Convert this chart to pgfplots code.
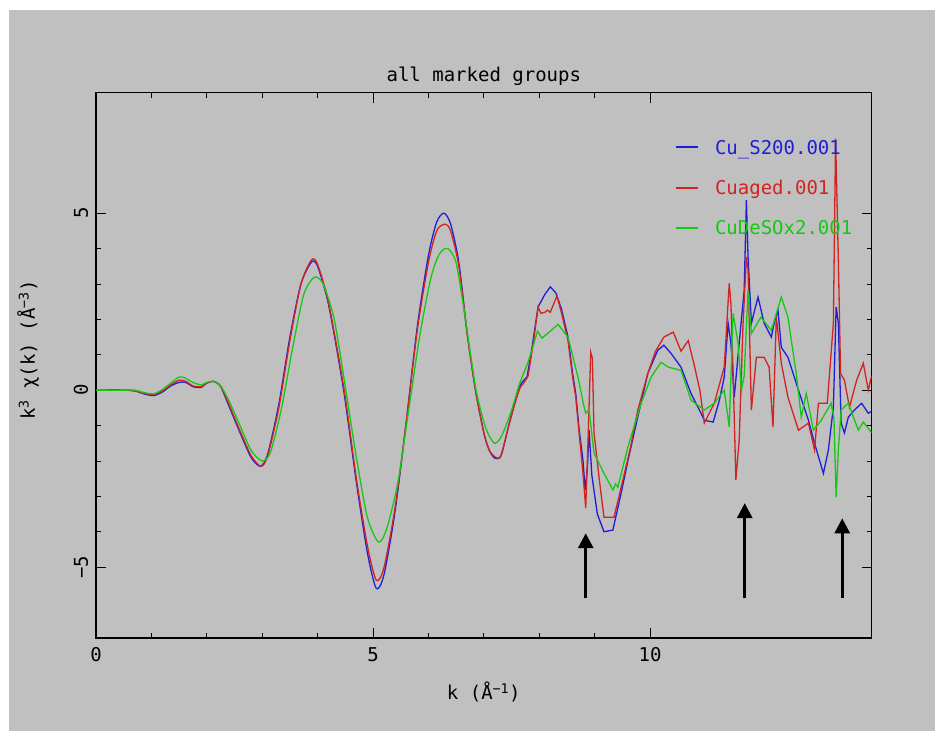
\documentclass[border=0pt]{standalone}
\usepackage{fontspec}
\setmainfont{DejaVu Sans Mono}
\usepackage{pgfplots}
\pgfplotsset{compat=1.18}
\usetikzlibrary{arrows.meta}
\definecolor{bggray}{RGB}{192,192,192}
\definecolor{cblue}{RGB}{30,30,215}
\definecolor{cred}{RGB}{210,35,35}
\definecolor{cgreen}{RGB}{20,200,20}
\begin{document}
\fontsize{19}{22}\selectfont
\begin{tikzpicture}
\useasboundingbox (0pt,0pt) rectangle (943pt,739pt);
\fill[white] (0pt,0pt) rectangle (943pt,739pt);
\fill[bggray] (9pt,8pt) rectangle (935pt,729pt);
\begin{axis}[
  at={(96pt,101pt)}, anchor=south west,
  scale only axis, width=775.6pt, height=545.2pt,
  xmin=0, xmax=14, ymin=-7, ymax=8.4,
  axis line style={line width=1.2pt, black},
  xtick={0,5,10}, xticklabels={0,5,10},
  ytick={-5,0,5}, yticklabels={{−5},{0},{5}},
  minor x tick num=4, minor y tick num=4,
  tick align=inside,
  major tick length=10pt, minor tick length=5pt,
  tick style={line width=0.9pt, black},
  xticklabel style={anchor=base, inner sep=0pt, yshift=-24pt},
  yticklabel style={rotate=90, anchor=base, inner sep=0pt},
  yticklabel shift=8pt,
  title={all marked groups},
  title style={at={(0.5,1)}, anchor=base, inner sep=0pt, yshift=5pt},
  xlabel={k (Å\textsuperscript{−1})},
  xlabel style={at={(axis description cs:0.5,0)}, anchor=base, inner sep=0pt, yshift=-62pt},
  ylabel={k\textsuperscript{3} χ(k) (Å\textsuperscript{−3})},
  ylabel style={at={(axis description cs:-0.0787,0.528)}, anchor=base, inner sep=0pt},
  clip=true,
  every axis plot/.append style={line width=1.3pt},
]
% ---- Cu_S200.001 (blue)
\addplot[cblue, smooth, tension=0.45] coordinates {
(0,0) (0.5,0) (0.7,-0.02) (0.9,-0.12) (1.05,-0.15) (1.2,-0.05) (1.35,0.12) (1.5,0.22) (1.62,0.22)
(1.75,0.1) (1.9,0.08) (2.0,0.2) (2.12,0.25) (2.25,0.1) (2.4,-0.45) (2.6,-1.2) (2.8,-1.9) (2.97,-2.15)
(3.1,-1.8) (3.3,-0.4) (3.5,1.5) (3.7,3.0) (3.89,3.62) (4.0,3.5) (4.2,2.4) (4.47,0) (4.7,-2.6) (4.9,-4.6)
(5.06,-5.6) (5.2,-5.2) (5.4,-3.4) (5.6,-0.9) (5.8,1.8) (6.0,3.8) (6.15,4.75) (6.28,5.0) (6.4,4.7)
(6.55,3.6) (6.7,1.6) (6.85,0) (7.0,-1.2) (7.1,-1.7) (7.2,-1.92) (7.31,-1.85) (7.45,-1.0) (7.54,-0.48)
(7.65,0.1) (7.72,0.28) (7.78,0.37)
};
\addplot[cblue] coordinates {
(7.78,0.37) (7.86,1.1) (7.98,2.35) (8.1,2.7) (8.2,2.92) (8.3,2.75) (8.4,2.3)
(8.52,1.5) (8.6,0.5) (8.66,-0.1) (8.72,-1.1) (8.79,-1.98) (8.83,-2.82) (8.87,-2.2) (8.9,-1.13)
(8.95,-2.4) (9.05,-3.5) (9.17,-4.0) (9.33,-3.95) (9.48,-2.9) (9.6,-2.0) (9.78,-0.75) (9.96,0.47)
(10.14,1.13) (10.25,1.27) (10.38,1.04) (10.56,0.65) (10.74,-0.09) (10.92,-0.65) (10.98,-0.85)
(11.14,-0.9) (11.25,-0.3) (11.34,0.37) (11.41,1.89) (11.46,1.33) (11.52,-0.2) (11.61,1.33)
(11.7,2.82) (11.74,5.37) (11.77,3.76) (11.83,1.89) (11.95,2.63) (12.06,1.89) (12.19,1.5)
(12.24,1.89) (12.31,2.26) (12.37,1.21) (12.49,0.93) (12.68,0) (12.86,-0.85) (12.97,-1.5)
(13.13,-2.35) (13.22,-1.69) (13.31,-0.48) (13.36,2.35) (13.4,1.89) (13.45,-0.93) (13.51,-1.21)
(13.58,-0.76) (13.69,-0.56) (13.82,-0.37) (13.94,-0.65) (14,-0.6)
};
% ---- Cuaged.001 (red)
\addplot[cred, smooth, tension=0.45] coordinates {
(0,0) (0.5,0) (0.7,-0.02) (0.9,-0.1) (1.05,-0.12) (1.2,-0.02) (1.35,0.15) (1.5,0.28) (1.62,0.25)
(1.75,0.12) (1.9,0.1) (2.0,0.2) (2.12,0.25) (2.25,0.12) (2.4,-0.4) (2.6,-1.15) (2.8,-1.85) (2.98,-2.15)
(3.1,-1.85) (3.3,-0.5) (3.5,1.4) (3.7,3.0) (3.89,3.68) (4.0,3.55) (4.2,2.45) (4.48,0) (4.7,-2.5)
(4.9,-4.4) (5.06,-5.37) (5.2,-5.0) (5.4,-3.3) (5.6,-0.9) (5.8,1.7) (6.0,3.6) (6.15,4.5) (6.3,4.69)
(6.4,4.5) (6.55,3.5) (6.7,1.6) (6.85,0) (7.0,-1.2) (7.1,-1.7) (7.22,-1.9) (7.31,-1.85) (7.45,-1.0)
(7.54,-0.48) (7.65,0.05) (7.72,0.2) (7.8,0.4)
};
\addplot[cred] coordinates {
(7.8,0.4) (7.9,1.4) (7.98,2.35) (8.03,2.17) (8.1,2.2) (8.15,2.26)
(8.2,2.2) (8.32,2.66) (8.4,2.2) (8.52,1.4) (8.6,0.4) (8.66,-0.2) (8.72,-1.2) (8.79,-2.35) (8.84,-3.33)
(8.88,-1.5) (8.93,1.07) (8.96,0.9) (8.99,-1.21) (9.08,-2.46) (9.17,-3.59) (9.35,-3.59) (9.51,-2.54)
(9.65,-1.6) (9.78,-0.56) (9.96,0.47) (10.1,1.1) (10.25,1.5) (10.42,1.64) (10.56,1.1) (10.69,1.4)
(10.8,0.7) (10.9,0.0) (10.98,-0.93) (11.16,-0.37) (11.34,0.65) (11.43,3.02) (11.46,2.46) (11.5,0.5)
(11.55,-2.54) (11.61,-1.41) (11.68,1.89) (11.74,3.76) (11.77,3.39) (11.83,-0.56) (11.92,0.93)
(12.06,0.93) (12.15,0.65) (12.22,-1.04) (12.28,2.06) (12.37,0.76) (12.49,-0.2) (12.68,-1.13)
(12.86,-0.93) (12.97,-1.69) (13.04,-0.37) (13.2,-0.37) (13.31,1.89) (13.35,7.1) (13.4,3.67)
(13.44,0.47) (13.51,0.28) (13.6,-0.48) (13.73,0.28) (13.85,0.76) (13.94,0) (14,0.4)
};
% ---- CuDeSOx2.001 (green)
\addplot[cgreen, smooth, tension=0.45] coordinates {
(0,0) (0.5,0) (0.7,0) (0.9,-0.08) (1.05,-0.1) (1.2,0.02) (1.35,0.2) (1.5,0.37) (1.6,0.35) (1.75,0.22)
(1.9,0.15) (2.0,0.22) (2.12,0.25) (2.25,0.12) (2.4,-0.3) (2.6,-1.0) (2.8,-1.7) (3.0,-2.0) (3.15,-1.75)
(3.35,-0.5) (3.55,1.2) (3.75,2.7) (3.94,3.19) (4.1,3.0) (4.3,2.0) (4.5,0.1) (4.7,-1.9) (4.9,-3.6)
(5.1,-4.29) (5.25,-3.9) (5.45,-2.6) (5.65,-0.5) (5.85,1.6) (6.05,3.2) (6.2,3.85) (6.35,4.0) (6.5,3.6)
(6.65,2.2) (6.85,0.1) (7.0,-0.9) (7.1,-1.3) (7.2,-1.5) (7.31,-1.33) (7.45,-0.8) (7.54,-0.37)
(7.65,0.2) (7.8,0.8) (7.9,1.3)
};
\addplot[cgreen] coordinates {
(7.9,1.3) (7.97,1.67) (8.05,1.47) (8.15,1.6) (8.34,1.86) (8.52,1.5) (8.6,1.0)
(8.7,0.37) (8.8,-0.4) (8.84,-0.65) (8.9,-0.55) (8.99,-1.78) (9.17,-2.35) (9.33,-2.82) (9.38,-2.65)
(9.42,-2.74) (9.6,-1.61) (9.84,-0.37) (10.02,0.37) (10.2,0.79) (10.33,0.65) (10.56,0.56)
(10.74,-0.28) (10.98,-0.56) (11.16,-0.37) (11.34,0) (11.43,-1.04) (11.5,2.17) (11.59,1.33)
(11.65,0) (11.7,0.4) (11.77,2.82) (11.83,1.6) (12.0,2.06) (12.19,1.69) (12.37,2.63) (12.49,2.06)
(12.64,0.47) (12.73,-0.76) (12.82,-0.09) (12.95,-1.13) (13.09,-0.85) (13.27,-0.37) (13.32,-0.8)
(13.36,-3.02) (13.4,-1.69) (13.45,-0.56) (13.58,-0.37) (13.76,-1.13) (13.85,-0.9) (14,-1.2)
};
% ---- legend
\path[draw=bggray, line width=0.1pt] (axis cs:1,7.5) -- (axis cs:1.001,7.5);
\draw[cred, line width=1.6pt] (axis cs:10.47,5.71) -- (axis cs:10.87,5.71);
\node[cred, anchor=base west, inner sep=0pt] at (axis cs:11.17,5.52) {Cuaged.001};
\draw[cgreen, line width=1.6pt] (axis cs:10.47,4.58) -- (axis cs:10.87,4.58);
\node[cgreen, anchor=base west, inner sep=0pt] at (axis cs:11.17,4.39) {CuDeSOx2.001};
\fill[cblue] (axis cs:10.47,6.835) rectangle (axis cs:10.87,6.885);
\node[cblue, anchor=base west, inner sep=0pt] at (axis cs:11.17,6.67) {Cu\_S200.001};
% ---- arrows
\draw[-{Triangle[length=15pt,width=15pt]}, line width=2.8pt, black] (axis cs:8.84,-5.88) -- (axis cs:8.84,-4.04);
\draw[-{Triangle[length=15pt,width=15pt]}, line width=2.8pt, black] (axis cs:11.71,-5.88) -- (axis cs:11.71,-3.19);
\draw[-{Triangle[length=15pt,width=15pt]}, line width=2.8pt, black] (axis cs:13.47,-5.88) -- (axis cs:13.47,-3.62);
\end{axis}
\end{tikzpicture}
\end{document}
